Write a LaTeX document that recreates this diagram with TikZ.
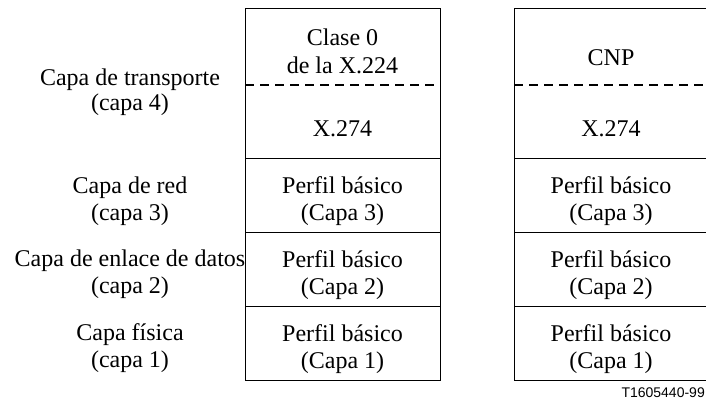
\documentclass[tikz,border=0pt]{standalone}
\usepackage{fontspec}
\setmainfont{Liberation Serif}
\newfontfamily\labelsans{Liberation Sans}
\begin{document}
\begin{tikzpicture}[x=1pt,y=-1pt,
  cell/.style={align=center,font=\fontsize{24}{27}\selectfont,inner sep=0pt},
  layer/.style={align=center,font=\fontsize{24}{27}\selectfont,inner sep=0pt},
  frame/.style={line width=1pt},
  dash line/.style={line width=1.2pt,dash pattern=on 9pt off 6pt}]
\useasboundingbox (0,0) rectangle (706,401);
\clip (0,0) rectangle (706,401);
% left stack
\draw[frame] (245,9) rectangle (440,380);
\draw[dash line] (245,85) -- (440,85);
\draw[frame] (245,158) -- (440,158);
\draw[frame] (245,232) -- (440,232);
\draw[frame] (245,306) -- (440,306);
% right stack (clipped at the right)
\draw[frame] (710,9) -- (514,9) -- (514,380) -- (710,380);
\draw[dash line] (514,85) -- (710,85);
\draw[frame] (514,158) -- (710,158);
\draw[frame] (514,232) -- (710,232);
\draw[frame] (514,306) -- (710,306);
% left stack texts
\node[cell,font=\fontsize{24}{28}\selectfont] (a4) at (342.5,51) {Clase 0\\de la X.224};
\node[cell] (a4b) at (342.5,129) {X.274};
\node[cell] (a3) at (342.5,201) {Perfil básico\\(Capa 3)};
\node[cell] (a2) at (342.5,275) {Perfil básico\\(Capa 2)};
\node[cell] (a1) at (342.5,349) {Perfil básico\\(Capa 1)};
% right stack texts
\node[cell] (b4) at (611,58) {CNP};
\node[cell] (b4b) at (611,129) {X.274};
\node[cell] (b3) at (611,201) {Perfil básico\\(Capa 3)};
\node[cell] (b2) at (611,275) {Perfil básico\\(Capa 2)};
\node[cell] (b1) at (611,349) {Perfil básico\\(Capa 1)};
% layer labels
\node[layer,font=\fontsize{24}{25}\selectfont] (l4) at (130,92) {Capa de transporte\\(capa 4)};
\node[layer] (l3) at (130,201) {Capa de red\\(capa 3)};
\node[layer] (l2) at (130,274) {Capa de enlace de datos\\(capa 2)};
\node[layer] (l1) at (130,348) {Capa física\\(capa 1)};
% figure id
\node[anchor=east,inner sep=0pt,font=\labelsans\fontsize{14}{16}\selectfont] (fid) at (705,393) {T1605440-99};
\end{tikzpicture}
\end{document}
